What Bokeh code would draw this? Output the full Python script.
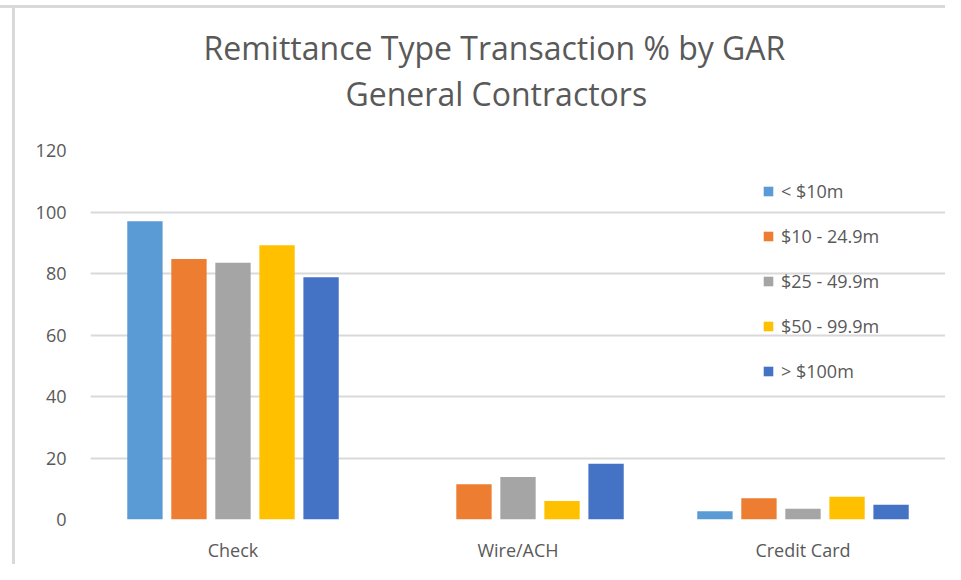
from bokeh.plotting import figure
from bokeh.models import (ColumnDataSource, FactorRange, Range1d, Legend, LegendItem,
                          Title, FixedTicker)
from bokeh.transform import dodge
from bokeh.embed import file_html
from bokeh.resources import INLINE

categories = ["Check", "Wire/ACH", "Credit Card"]
series_names = ["< $10m", "$10 - 24.9m", "$25 - 49.9m", "$50 - 99.9m", "> $100m"]
lt_10m = [97, 0, 2.7]
m10_24 = [84.7, 11.5, 6.9]
m25_49 = [83.5, 13.8, 3.5]
m50_99 = [89.2, 6.0, 7.4]
gt_100m = [78.8, 18.1, 4.8]
y_ticks = [0, 20, 40, 60, 80, 100, 120]
title_lines = ["Remittance Type Transaction % by GAR", "General Contractors"]

colors = ["#5B9BD5", "#ED7D31", "#A5A5A5", "#FFC000", "#4472C4"]
series_values = [lt_10m, m10_24, m25_49, m50_99, gt_100m]
keys = ["s0", "s1", "s2", "s3", "s4"]

data = {"cat": categories}
for k, v in zip(keys, series_values):
    data[k] = v
source = ColumnDataSource(data)

FONT = "Open Sans"
TXT = "#595959"

p = figure(x_range=FactorRange(*categories), y_range=Range1d(0, 120),
           width=945, height=564, output_backend="svg", toolbar_location=None,
           min_border_left=90, min_border_right=0, min_border_top=150, min_border_bottom=44)
p.outline_line_color = None
p.background_fill_color = "white"
p.border_fill_color = None
p.styles = {
    "background": ("linear-gradient(#d9d9d9, #d9d9d9) 12px 5px / 3px 100% no-repeat, "
                   "linear-gradient(#d9d9d9, #d9d9d9) 0px 5px / 100% 3px no-repeat, white"),
}

offsets = [-0.309, -0.1545, 0.0, 0.1545, 0.309]
renderers = []
for k, c, off in zip(keys, colors, offsets):
    r = p.vbar(x=dodge("cat", off, range=p.x_range), top=k, width=0.124, source=source,
               fill_color=c, line_color=None)
    renderers.append(r)

p.yaxis.ticker = FixedTicker(ticks=y_ticks)
for ax in (p.xaxis, p.yaxis):
    ax.axis_line_color = None
    ax.major_tick_line_color = None
    ax.minor_tick_line_color = None
    ax.major_label_text_font = FONT
    ax.major_label_text_color = TXT
    ax.major_label_text_font_size = "18px"
p.yaxis.major_label_standoff = 18
p.xaxis.major_label_standoff = 12

p.xgrid.grid_line_color = None
p.ygrid.grid_line_color = "#d9d9d9"
p.ygrid.grid_line_width = 2
p.ygrid.ticker = FixedTicker(ticks=y_ticks)

legend = Legend(items=[LegendItem(label=n, renderers=[r]) for n, r in zip(series_names, renderers)],
                location=(672, 136), padding=0, margin=0, spacing=21,
                glyph_width=12, glyph_height=12, label_standoff=7,
                label_text_font=FONT, label_text_font_size="18px", label_text_color=TXT,
                border_line_color=None, background_fill_alpha=0)
p.add_layout(legend, "center")

# two-line title: the first "above" item sits nearest the frame
p.add_layout(Title(text=title_lines[1], align="left", offset=255, standoff=71,
                   text_font=FONT, text_font_size="32px", text_color=TXT,
                   text_font_style="normal"), "above")
p.add_layout(Title(text=title_lines[0], align="left", offset=113, standoff=-69,
                   text_font=FONT, text_font_size="32px", text_color=TXT,
                   text_font_style="normal"), "above")

open("out.html", "w").write(file_html(p, INLINE))
